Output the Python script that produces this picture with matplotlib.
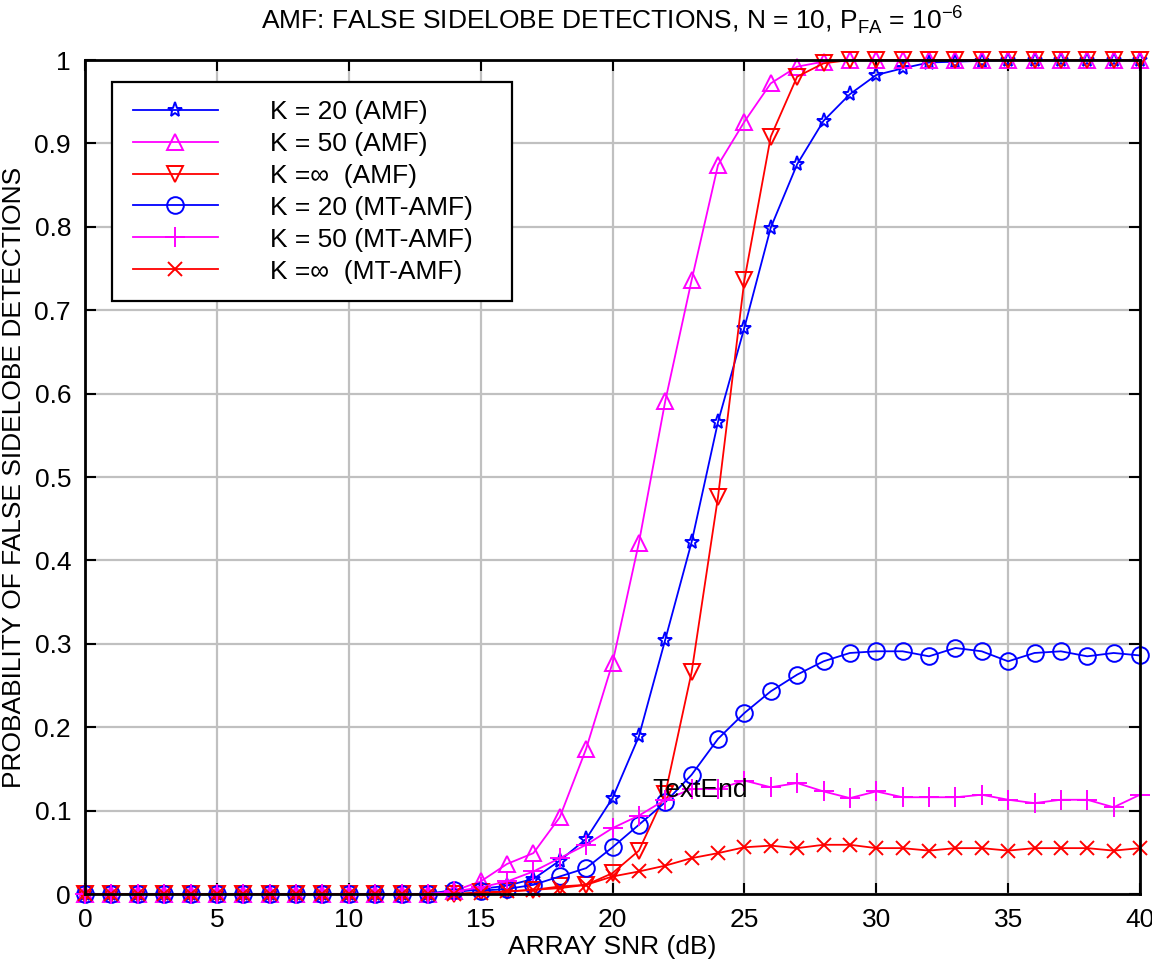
import matplotlib
matplotlib.use("Agg")
import matplotlib.pyplot as plt
from matplotlib.patches import Rectangle
import numpy as np

plt.rcParams['font.family'] = ['Liberation Sans', 'DejaVu Sans']
plt.rcParams['mathtext.fontset'] = 'custom'
plt.rcParams['mathtext.rm'] = 'Liberation Sans'

snr = list(range(41))
z = [0.0] * 14

k20_amf = z + [0.002, 0.006, 0.010, 0.018, 0.040, 0.066, 0.115, 0.189, 0.305, 0.422,
               0.566, 0.679, 0.799, 0.875, 0.927, 0.959, 0.982, 0.990, 0.997, 0.998,
               0.999, 1.0, 1.0, 1.0, 1.0, 1.0, 1.0]
k50_amf = z + [0.004, 0.015, 0.036, 0.049, 0.092, 0.174, 0.277, 0.421, 0.591, 0.736,
               0.874, 0.926, 0.972, 0.992, 0.998, 1.0, 1.0, 1.0, 1.0, 1.0,
               1.0, 1.0, 1.0, 1.0, 1.0, 1.0, 1.0]
kinf_amf = z + [0.0, 0.002, 0.003, 0.005, 0.009, 0.011, 0.025, 0.052, 0.120, 0.266,
                0.476, 0.736, 0.908, 0.980, 0.996, 1.0, 1.0, 1.0, 1.0, 1.0,
                1.0, 1.0, 1.0, 1.0, 1.0, 1.0, 1.0]
k20_mt = z + [0.005, 0.004, 0.006, 0.011, 0.021, 0.031, 0.056, 0.083, 0.110, 0.143,
              0.186, 0.217, 0.243, 0.263, 0.279, 0.289, 0.291, 0.291, 0.285, 0.295,
              0.291, 0.279, 0.289, 0.291, 0.285, 0.289, 0.286]
k50_mt = z + [0.003, 0.008, 0.015, 0.027, 0.043, 0.059, 0.079, 0.094, 0.113, 0.126,
              0.126, 0.136, 0.128, 0.133, 0.123, 0.115, 0.123, 0.116, 0.116, 0.116,
              0.119, 0.113, 0.109, 0.113, 0.113, 0.104, 0.119]
kinf_mt = z + [0.0, 0.001, 0.003, 0.005, 0.007, 0.011, 0.021, 0.027, 0.034, 0.043,
               0.049, 0.056, 0.058, 0.055, 0.059, 0.059, 0.055, 0.055, 0.052, 0.055,
               0.055, 0.052, 0.055, 0.055, 0.055, 0.052, 0.055]

labels = ['K = 20 (AMF)', 'K = 50 (AMF)', 'K =\u221e  (AMF)',
          'K = 20 (MT-AMF)', 'K = 50 (MT-AMF)', 'K =\u221e  (MT-AMF)']
xticks = [0, 5, 10, 15, 20, 25, 30, 35, 40]
yticks = [0, 0.1, 0.2, 0.3, 0.4, 0.5, 0.6, 0.7, 0.8, 0.9, 1]
ytick_labels = ['0', '0.1', '0.2', '0.3', '0.4', '0.5', '0.6', '0.7', '0.8', '0.9', '1']

fig = plt.figure(figsize=(11.52, 9.63), dpi=100)
ax = fig.add_axes([85/1152, 1-894/963, (1140-85)/1152, (894-60)/963])

FS = 19
lw = 1.3
styles = [
    (k20_amf, 'blue', '*', 11),
    (k50_amf, 'magenta', '^', 11),
    (kinf_amf, 'red', 'v', 11),
    (k20_mt, 'blue', 'o', 12),
    (k50_mt, 'magenta', '+', 14),
    (kinf_mt, 'red', 'x', 10),
]
for (data, col, mk, ms), lab in zip(styles, labels):
    ax.plot(snr, data, color=col, marker=mk, markersize=ms, markerfacecolor='none',
            markeredgecolor=col, markeredgewidth=1.4, linewidth=lw, label=lab,
            clip_on=False, zorder=3)

ax.set_xlim(0, 40)
ax.set_ylim(0, 1)
ax.set_xticks(xticks)
ax.set_xticklabels([str(t) for t in xticks])
ax.set_yticks(yticks)
ax.set_yticklabels(ytick_labels)
ax.grid(True, color='#c0c0c0', linewidth=1.6)
ax.set_axisbelow(True)
ax.tick_params(direction='in', length=8, width=1.5, top=True, right=True,
               labelsize=FS, pad=10)
for sp in ax.spines.values():
    sp.set_linewidth(2)
    sp.set_zorder(4)

ax.set_xlabel('ARRAY SNR (dB)', fontsize=FS, labelpad=2)
ax.set_ylabel('PROBABILITY OF FALSE SIDELOBE DETECTIONS', fontsize=FS, labelpad=6)
ax.set_title(r'AMF: FALSE SIDELOBE DETECTIONS, N = 10, P$_{\mathrm{FA}}$ = 10$^{-6}$',
             fontsize=FS, pad=22)

ax.text(21.5, 0.125, 'TextEnd', fontsize=FS, va='center', ha='left', zorder=5)

# legend box drawn manually to match the wide frame
box = Rectangle((0.0253, 0.711), 0.3794, 0.263, transform=ax.transAxes,
                facecolor='white', edgecolor='black', linewidth=1.6, zorder=6)
ax.add_patch(box)
leg = ax.legend(loc='center left', bbox_to_anchor=(0.0455, 0.842), fontsize=FS,
                frameon=False, handlelength=3.22, handletextpad=1.98,
                labelspacing=0.3, borderpad=0, borderaxespad=0)
leg.set_zorder(7)

fig.savefig('out.png', dpi=100)
